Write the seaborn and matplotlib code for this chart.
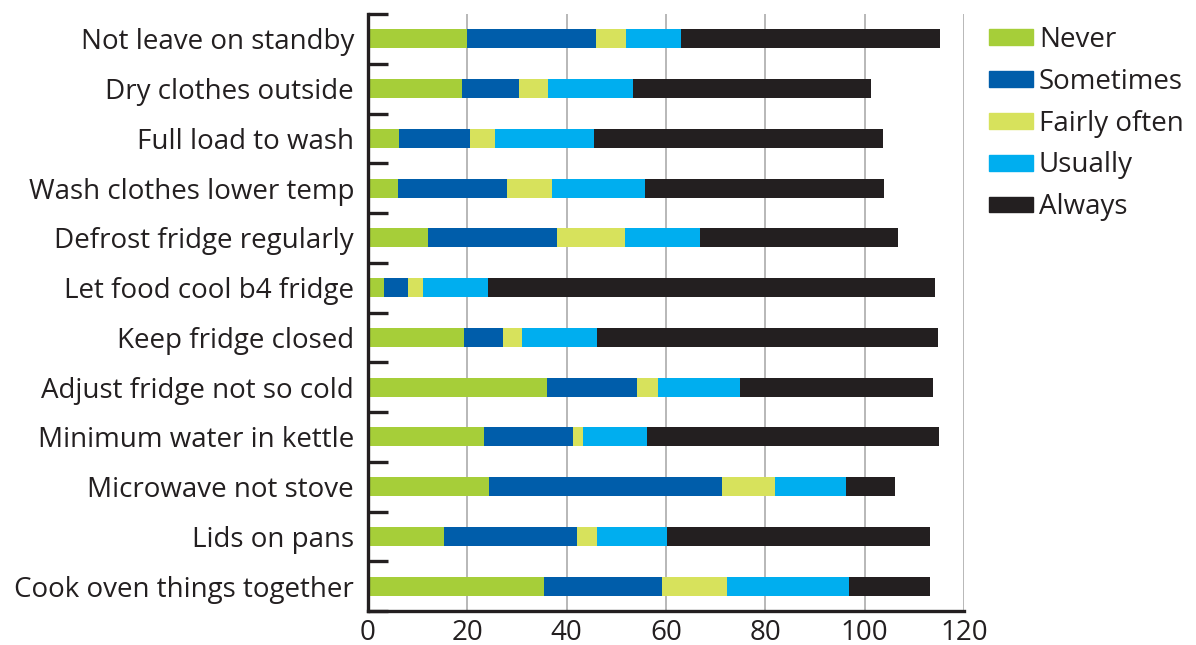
import matplotlib
matplotlib.use("Agg")
import matplotlib.pyplot as plt
import matplotlib.patches as mpatches
from matplotlib.ticker import FixedLocator
import numpy as np
import pandas as pd
import seaborn as sns

categories = ["Not leave on standby", "Dry clothes outside", "Full load to wash",
              "Wash clothes lower temp", "Defrost fridge regularly", "Let food cool b4 fridge",
              "Keep fridge closed", "Adjust fridge not so cold", "Minimum water in kettle",
              "Microwave not stove", "Lids on pans", "Cook oven things together"]
never = [20, 19, 6.3, 6, 12, 3.2, 19.3, 36.1, 23.3, 24.3, 15.4, 35.4]
sometimes = [26, 11.4, 14.3, 22, 26, 4.9, 7.9, 18, 18, 47, 26.7, 23.8]
fairly_often = [6, 5.8, 5, 9, 13.7, 2.9, 3.9, 4.2, 2, 10.7, 4, 13.1]
usually = [11.1, 17.1, 20, 18.8, 15.1, 13.1, 15.1, 16.5, 12.9, 14.2, 14.1, 24.6]
always = [52, 47.9, 58.1, 48, 40, 90, 68.6, 38.9, 58.7, 10, 52.9, 16.2]
series_names = ["Never", "Sometimes", "Fairly often", "Usually", "Always"]
colors = ["#A6CE39", "#005DAA", "#D7E25C", "#00AEEF", "#231F20"]
xticks = [0, 20, 40, 60, 80, 100, 120]

sns.set_theme(style="white")
plt.rcParams['font.family'] = ['Open Sans', 'DejaVu Sans']
TXT = "#231F20"
FS = 20

df = pd.DataFrame({"category": categories, "Never": never, "Sometimes": sometimes,
                   "Fairly often": fairly_often, "Usually": usually, "Always": always})
cum = df[series_names].cumsum(axis=1)

fig = plt.figure(figsize=(11.96, 6.45), dpi=100)
ax = fig.add_axes([368/1196, 1 - 611/645, (964-368)/1196, (611-14)/645])

for name, col in reversed(list(zip(series_names, colors))):
    sns.barplot(x=cum[name], y=df["category"], orient="h", color=col, width=0.38,
                saturation=1, ax=ax, zorder=3, linewidth=0)

ax.set_xlim(0, 120)
ax.set_ylim(11.5, -0.5)
ax.set_xticks(xticks)
ax.set_xticklabels([str(t) for t in xticks])
ax.set_xlabel("")
ax.set_ylabel("")
ax.xaxis.grid(True, color="#ABABAB", linewidth=1.2, zorder=0)
ax.yaxis.grid(False)
ax.set_axisbelow(True)

for s in ["top", "right"]:
    ax.spines[s].set_visible(False)
for s in ["left", "bottom"]:
    ax.spines[s].set_color(TXT)
    ax.spines[s].set_linewidth(2.4)
    ax.spines[s].set_zorder(5)

ax.tick_params(axis="x", length=0, pad=6, labelsize=FS, labelcolor=TXT)
ax.tick_params(axis="y", which="major", length=0, pad=10, labelsize=FS, labelcolor=TXT)
ax.yaxis.set_minor_locator(FixedLocator(np.arange(-0.5, 11.6, 1.0)))
ax.tick_params(axis="y", which="minor", direction="in", length=14.5, width=2.4, color=TXT, left=True)

handles = [mpatches.Patch(color=c, label=n) for n, c in zip(series_names, colors)]
leg = fig.legend(handles=handles, loc="upper left", bbox_to_anchor=(986/1196, 1 - 23/645),
                 frameon=False, fontsize=FS, handlelength=1.6, handleheight=0.5,
                 handletextpad=0.2, labelspacing=0.5, borderaxespad=0, borderpad=0.1)
for t in leg.get_texts():
    t.set_color(TXT)

fig.savefig("out.png", dpi=100)
